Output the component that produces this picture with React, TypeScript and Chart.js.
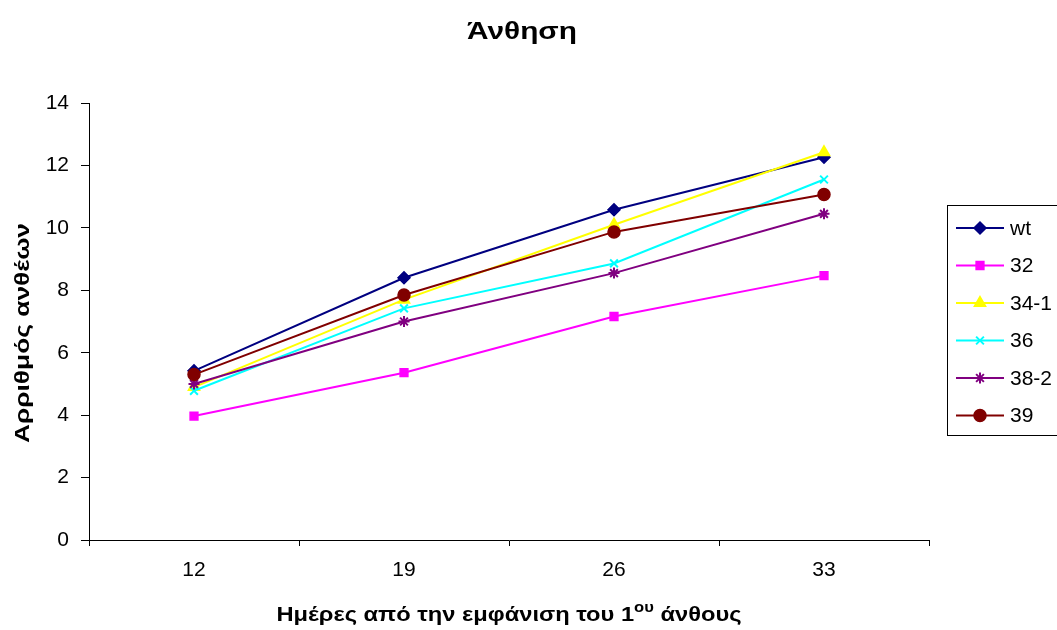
import React, { useEffect, useRef } from "react";
import { Chart, registerables } from "chart.js";
import { drawPoint } from "chart.js/helpers";

Chart.register(...registerables);

const categories = ["12", "19", "26", "33"];
const seriesNames = ["wt", "32", "34-1", "36", "38-2", "39"];
const wt = [5.42, 8.4, 10.58, 12.26];
const s32 = [3.97, 5.36, 7.16, 8.47];
const s34_1 = [4.9, 7.7, 10.1, 12.42];
const s36 = [4.78, 7.42, 8.86, 11.55];
const s38_2 = [5.0, 7.0, 8.55, 10.45];
const s39 = [5.3, 7.85, 9.87, 11.07];
const yTicks = [0, 2, 4, 6, 8, 10, 12, 14];

const colors = ["#000080", "#FF00FF", "#FFFF00", "#00FFFF", "#800080", "#800000"];
const markers = ["rectRot", "rect", "triangle", "crossRot", "star", "circle"];
const radii = [6, 5.5, 6.5, 5.5, 5.5, 6];
const markerBorders = [1.5, 1.5, 1.5, 2, 2, 1.5];

const FONT = "'Liberation Sans', Arial, sans-serif";

const titleText = "Άνθηση";
const yTitle = "Αρριθμός ανθέων";
const xTitleA = "Ημέρες από την εμφάνιση του 1";
const xTitleSup = "ου";
const xTitleB = " άνθους";

function drawFit(ctx: any, text: string, font: string, width: number) {
  ctx.font = font;
  const w = ctx.measureText(text).width;
  ctx.save();
  ctx.scale(width / w, 1);
  ctx.textAlign = "center";
  ctx.fillText(text, 0, 0);
  ctx.restore();
}

const decorPlugin = {
  id: "decor",
  afterDraw(chart: any) {
    const ctx = chart.ctx;
    ctx.save();
    ctx.fillStyle = "#000";
    ctx.textBaseline = "alphabetic";
    // title
    ctx.save();
    ctx.translate(522, 39);
    drawFit(ctx, titleText, `bold 23px ${FONT}`, 110);
    ctx.restore();
    // y title
    ctx.save();
    ctx.translate(29, 333);
    ctx.rotate(-Math.PI / 2);
    drawFit(ctx, yTitle, `bold 20px ${FONT}`, 220);
    ctx.restore();
    // x title with superscript
    const big = `bold 20px ${FONT}`;
    const small = `bold 14px ${FONT}`;
    ctx.font = big;
    const wA = ctx.measureText(xTitleA).width;
    const wB = ctx.measureText(xTitleB).width;
    ctx.font = small;
    const wS = ctx.measureText(xTitleSup).width;
    const total = wA + wS + wB;
    const target = 465;
    const cx = (chart.chartArea.left + chart.chartArea.right) / 2;
    ctx.save();
    ctx.translate(cx - target / 2, 621);
    ctx.scale(target / total, 1);
    ctx.textAlign = "left";
    let x = 0;
    ctx.font = big;
    ctx.fillText(xTitleA, x, 0);
    x += wA;
    ctx.font = small;
    ctx.fillText(xTitleSup, x, -9);
    x += wS;
    ctx.font = big;
    ctx.fillText(xTitleB, x, 0);
    ctx.restore();
    // legend
    ctx.strokeStyle = "#000";
    ctx.lineWidth = 1;
    ctx.strokeRect(947.5, 205.5, 200, 230);
    ctx.font = `21px ${FONT}`;
    ctx.textAlign = "left";
    ctx.textBaseline = "middle";
    chart.data.datasets.forEach((ds: any, i: number) => {
      const y = 228 + i * 37.5;
      ctx.strokeStyle = ds.borderColor;
      ctx.lineWidth = 2;
      ctx.beginPath();
      ctx.moveTo(956, y);
      ctx.lineTo(1004, y);
      ctx.stroke();
      ctx.fillStyle = ds.pointBackgroundColor;
      ctx.strokeStyle = ds.pointBorderColor;
      ctx.lineWidth = ds.pointBorderWidth;
      drawPoint(ctx, { pointStyle: ds.pointStyle, radius: ds.pointRadius, rotation: 0, borderWidth: ds.pointBorderWidth }, 980, y);
      ctx.fillStyle = "#000";
      ctx.fillText(ds.label, 1010, y + 1);
    });
    ctx.restore();
  },
};

export default function App() {
  const ref = useRef<HTMLCanvasElement | null>(null);
  useEffect(() => {
    if (!ref.current) return;
    const seriesData = [wt, s32, s34_1, s36, s38_2, s39];
    const chart = new Chart(ref.current, {
      type: "line",
      data: {
        labels: categories,
        datasets: seriesData.map((d, i) => ({
          label: seriesNames[i],
          data: d,
          borderColor: colors[i],
          backgroundColor: colors[i],
          pointBackgroundColor: colors[i],
          pointBorderColor: colors[i],
          pointStyle: markers[i],
          pointRadius: radii[i],
          pointBorderWidth: markerBorders[i],
          borderWidth: 2,
          tension: 0,
          fill: false,
          order: 6 - i,
        })),
      },
      options: {
        responsive: false,
        animation: false,
        layout: { padding: { left: 0, top: 103, right: 128, bottom: 50 } },
        plugins: { legend: { display: false }, title: { display: false }, tooltip: { enabled: false } },
        scales: {
          x: {
            type: "category",
            offset: true,
            grid: { display: true, offset: true, drawOnChartArea: false, drawTicks: true, tickLength: 6, color: "#000", lineWidth: 1 },
            border: { display: true, color: "#000", width: 1 },
            ticks: { color: "#000", font: { family: FONT, size: 21 }, padding: 12, maxRotation: 0 },
            afterFit: (s: any) => { s.height = 40; },
          },
          y: {
            min: 0,
            max: 14,
            afterBuildTicks: (s: any) => { s.ticks = yTicks.map((v) => ({ value: v })); },
            grid: { display: true, drawOnChartArea: false, drawTicks: true, tickLength: 8, color: "#000", lineWidth: 1 },
            border: { display: true, color: "#000", width: 1 },
            ticks: { color: "#000", font: { family: FONT, size: 21 }, padding: 12 },
            afterFit: (s: any) => { s.width = 89; },
          },
        },
      },
      plugins: [decorPlugin],
    } as any);
    return () => chart.destroy();
  }, []);
  return (
    <div style={{ position: "absolute", left: 0, top: 0, width: 1057, height: 630, background: "#fff" }}>
      <canvas ref={ref} width={1057} height={630} style={{ width: 1057, height: 630 }} />
    </div>
  );
}
